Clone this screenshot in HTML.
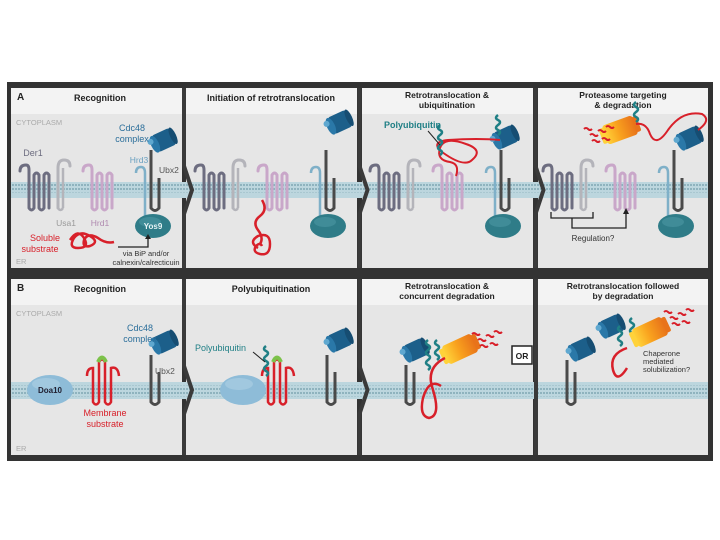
<!DOCTYPE html>
<html><head><meta charset="utf-8"><style>
html,body{margin:0;padding:0;background:#fff;}
svg{display:block;}
text{font-family:"Liberation Sans",sans-serif;}
</style></head><body>
<svg id="s" width="720" height="540" viewBox="0 0 720 540" xmlns="http://www.w3.org/2000/svg">
<defs>
<pattern id="mem" width="3" height="17" patternUnits="userSpaceOnUse">
<rect width="3" height="17" fill="#bcd6de"/>
<rect x="0" y="1" width="2" height="2" fill="#8fb3be"/>
<rect x="0" y="5" width="2" height="1" fill="#a9c7d0"/>
<rect x="0" y="11" width="2" height="1" fill="#a9c7d0"/>
<rect x="0" y="14" width="2" height="2" fill="#8fb3be"/>
</pattern>
<linearGradient id="prot" x1="0" y1="0" x2="1" y2="0">
<stop offset="0" stop-color="#ffd23a"/><stop offset="0.45" stop-color="#f9a21e"/><stop offset="1" stop-color="#e8731a"/>
</linearGradient>
</defs>
<rect x="7" y="82" width="706" height="379" fill="#333"/>
<g id="g"></g>
</svg>
<script>
var g=document.getElementById('g'),h='';
function add(s){h+=s;}
var cols=[[11,182],[186,357],[362,533],[538,708]];
function panel(y0,y1,hy){
 cols.forEach(function(c){
  add('<rect x="'+c[0]+'" y="'+y0+'" width="'+(c[1]-c[0])+'" height="'+(y1-y0)+'" fill="#e6e6e6"/>');
  add('<rect x="'+c[0]+'" y="'+y0+'" width="'+(c[1]-c[0])+'" height="'+hy+'" fill="#f3f3f3"/>');
 });
}
panel(88,268,26);panel(279,455,26);
add('<rect x="11" y="182" width="697" height="16" fill="url(#mem)"/>');
add('<rect x="11" y="382" width="697" height="17" fill="url(#mem)"/>');
function chev(x,y0,y1,my,ch){
 var d='M'+x+' '+y0+' L'+x+' '+(my-24)+' L'+(x+ch)+' '+my+' L'+x+' '+(my+24)+' L'+x+' '+y1;
 add('<path d="'+d+'" fill="none" stroke="#3a3a3a" stroke-width="4"/>');
}
chev(184,88,268,190,8);chev(359.5,88,268,190,8);chev(535.5,88,268,190,8);
chev(184,279,455,390,8);chev(359.5,279,455,390,8);
add('<rect x="534" y="279" width="4" height="176" fill="#3a3a3a"/>');
function T(x,y,t,o){o=o||{};add('<text x="'+x+'" y="'+y+'" font-size="'+(o.s||9)+'" fill="'+(o.c||'#222')+'" text-anchor="'+(o.a||'middle')+'" font-weight="'+(o.w||'normal')+'">'+t+'</text>');}
T(17,100,'A',{a:'start',w:'bold',s:10});T(17,291,'B',{a:'start',w:'bold',s:10});
T(100,101,'Recognition',{w:'bold',s:9});
T(271,101,'Initiation of retrotranslocation',{w:'bold',s:9});
T(447,98,'Retrotranslocation &amp;',{w:'bold',s:8.5});T(447,108,'ubiquitination',{w:'bold',s:8.5});
T(623,98,'Proteasome targeting',{w:'bold',s:8.5});T(623,108,'&amp; degradation',{w:'bold',s:8.5});
T(100,292,'Recognition',{w:'bold',s:9});
T(271,292,'Polyubiquitination',{w:'bold',s:9});
T(447,289,'Retrotranslocation &amp;',{w:'bold',s:8.5});T(447,299,'concurrent degradation',{w:'bold',s:8.5});
T(623,289,'Retrotranslocation followed',{w:'bold',s:8.5});T(623,299,'by degradation',{w:'bold',s:8.5});
T(16,125,'CYTOPLASM',{a:'start',s:7.5,c:'#aaa'});T(16,316,'CYTOPLASM',{a:'start',s:7.5,c:'#aaa'});
T(16,264,'ER',{a:'start',s:7.5,c:'#aaa'});T(16,451,'ER',{a:'start',s:7.5,c:'#aaa'});
function tm(x,n,w,top,bot,col){
 var d='M'+(x-6)+' '+(top+6)+' Q'+(x-6)+' '+top+' '+x+' '+top+' Q'+(x+3)+' '+top+' '+(x+3)+' '+(top+5);
 var cx=x+3;
 d+=' L'+cx+' '+bot;
 for(var i=0;i<n;i++){
  var nx=cx+w;
  if(i%2==0){d+=' Q'+(cx+w/2)+' '+(bot+4)+' '+nx+' '+bot+' L'+nx+' '+(top+10);}
  else{d+=' Q'+(cx+w/2)+' '+(top+6)+' '+nx+' '+(top+10)+' L'+nx+' '+bot;}
  cx=nx;
 }
 add('<path d="'+d+'" fill="none" stroke="'+col+'" stroke-width="3" stroke-linecap="round"/>');
}
function usa(x,col){
 add('<path d="M'+x+' 208 L'+x+' 168 Q'+x+' 160 '+(x+6)+' 160 Q'+(x+12)+' 160 '+(x+12)+' 166" fill="none" stroke="'+col+'" stroke-width="3" stroke-linecap="round"/>');
 add('<path d="M'+(x+5)+' 208 L'+(x+5)+' 168" fill="none" stroke="'+col+'" stroke-width="2.5"/>');
 add('<path d="M'+x+' 208 Q'+(x+2.5)+' 212 '+(x+5)+' 208" fill="none" stroke="'+col+'" stroke-width="2.5"/>');
}
function ubx(x,top){
 add('<path d="M'+x+' '+top+' L'+x+' 208 Q'+(x+4)+' 213 '+(x+8)+' 208 L'+(x+8)+' 178" fill="none" stroke="#4a4a4a" stroke-width="3"/>');
}
function ubxB(x,top,bot){
 add('<path d="M'+x+' '+top+' L'+x+' '+bot+' Q'+(x+4)+' '+(bot+5)+' '+(x+8)+' '+bot+' L'+(x+8)+' '+(bot-30)+'" fill="none" stroke="#4a4a4a" stroke-width="3"/>');
}
function cdc(x,y,r){ r=r||-25;
 add('<g transform="translate('+x+' '+y+') rotate('+r+')"><rect x="-10" y="-9" width="20" height="18" rx="3" fill="#1c5f8a"/><ellipse cx="-10" cy="0" rx="4" ry="9" fill="#2a78a8"/><ellipse cx="10" cy="0" rx="3" ry="9" fill="#164d72"/><circle cx="-13" cy="-4" r="3" fill="#5fa8d0"/></g>');
}
function yos(x,y){add('<ellipse cx="'+x+'" cy="'+y+'" rx="18" ry="12" fill="#2f7c88"/><ellipse cx="'+(x-3)+'" cy="'+(y-4)+'" rx="11" ry="5" fill="#4c98a3" opacity="0.6"/>');}
function prot(x,y,r){
 add('<g transform="translate('+x+' '+y+') rotate('+r+')"><rect x="-16" y="-10" width="32" height="20" rx="3" fill="url(#prot)"/><rect x="-20" y="-8" width="5" height="16" rx="2" fill="#ffd23a"/><rect x="15" y="-8" width="5" height="16" rx="2" fill="#e8731a"/></g>');
}
function ub(x,y,n){ var d='M'+x+' '+y; for(var i=0;i<n;i++){d+=' q4 -3 0 -5 q-4 -2 0 -5';} add('<path d="'+d+'" fill="none" stroke="#1f7f85" stroke-width="2.5"/>');}
function frags(x,y){ [[0,0],[8,-4],[2,6],[12,4],[-6,-6],[16,-8]].forEach(function(p){add('<path d="M'+(x+p[0])+' '+(y+p[1])+' q2 -2 4 0 q2 2 4 0" fill="none" stroke="#d8202a" stroke-width="2"/>');});}
var off=[0,175,350,523];
off.forEach(function(o){
 tm(26+o,4,5,165,208,'#6d6d80');
 usa(58+o,'#b4b4ba');
 tm(89+o,4,5,165,208,'#c9a7c9');
 add('<path d="M'+(136+o)+' 173 Q'+(136+o)+' 167 '+(141+o)+' 167 Q'+(145+o)+' 167 '+(145+o)+' 173 L'+(145+o)+' 218" fill="none" stroke="#7fb0c8" stroke-width="2.5"/>');
 yos(153+o,226);
 ubx(151+o,150);
});
cdc(164,140);cdc(340,122);cdc(506,137);cdc(690,138);
T(33,156,'Der1',{s:9,c:'#6d6d80'});
T(66,226,'Usa1',{s:8.5,c:'#999'});
T(100,226,'Hrd1',{s:8.5,c:'#b08ab0'});
T(139,163,'Hrd3',{s:8.5,c:'#6aa0c0'});
T(159,173,'Ubx2',{s:8.5,c:'#555',a:'start'});
T(132,131,'Cdc48',{s:9,c:'#2b6e9a'});T(132,142,'complex',{s:9,c:'#2b6e9a'});
T(153,229,'Yos9',{s:8,c:'#e8f4f6',w:'bold'});
T(45,241,'Soluble',{s:9,c:'#d8202a'});T(40,252,'substrate',{s:9,c:'#d8202a'});
add('<path d="M70 240 q8 -12 14 -2 q6 10 -6 10 q-10 0 -4 -10 q6 -8 16 -2 q10 6 0 10 q-8 2 -6 -6 q4 -8 14 -2 q8 6 16 4" fill="none" stroke="#d8202a" stroke-width="2.5"/>');
add('<path d="M118 247 L148 247 L148 238" fill="none" stroke="#222" stroke-width="1.3"/><path d="M145 239 L148 234 L151 239Z" fill="#222"/>');
T(146,256,'via BiP and/or',{s:7.5,c:'#333'});T(146,265,'calnexin/calrecticuin',{s:7.5,c:'#333'});
add('<path d="M262 200 q6 10 -2 16 q-8 6 -2 14 q6 8 2 14 M258 248 q-10 -6 0 -12 q12 -4 12 8 q0 12 -10 10 q-8 -2 -4 -8 q4 -4 6 0" fill="none" stroke="#d8202a" stroke-width="2.5"/>');
add('<path d="M456 176 q4 -12 -6 -14 q-14 -2 -10 -14 q4 -12 26 -4 q18 6 6 16 q-8 8 -30 -8 q-12 -10 6 -12 q30 -2 52 0" fill="none" stroke="#d8202a" stroke-width="2"/>');
ub(440,155,3);ub(498,135,2);
T(384,128,'Polyubiquitin',{s:9,c:'#1f7f85',a:'start',w:'bold'});
add('<path d="M428 131 L440 145" stroke="#222" stroke-width="1"/>');
prot(620,130,-20);frags(590,135);ub(636,122,2);
add('<path d="M636 124 q10 -2 14 10 q6 14 18 -4 q14 -20 34 -16 q10 6 -4 16" fill="none" stroke="#d8202a" stroke-width="2"/>');
add('<path d="M551 212 L551 218 L593 218 L593 212 M572 218 L572 228 L626 228 L626 212" fill="none" stroke="#222" stroke-width="1.3"/><path d="M623 214 L626 208 L629 214Z" fill="#222"/>');
T(593,241,'Regulation?',{s:8,c:'#333'});
function doa(x,lab){add('<ellipse cx="'+x+'" cy="390" rx="23" ry="15" fill="#8ebcd8"/><ellipse cx="'+(x-4)+'" cy="384" rx="14" ry="6" fill="#a9cde3" opacity="0.7"/>');if(lab)T(x,393,'Doa10',{s:8,w:'bold',c:'#223'});}
function msub(o){
 add('<path d="M'+(87+o)+' 376 Q'+(87+o)+' 368 '+(93+o)+' 368 L'+(93+o)+' 402 Q'+(96+o)+' 407 '+(99+o)+' 402 L'+(99+o)+' 362 Q'+(102+o)+' 357 '+(105+o)+' 362 L'+(105+o)+' 402 Q'+(108+o)+' 407 '+(111+o)+' 402 L'+(111+o)+' 368 Q'+(118+o)+' 366 '+(119+o)+' 376" fill="none" stroke="#d8202a" stroke-width="2.5"/>');
 add('<path d="M'+(98+o)+' 362 Q'+(102+o)+' 353 '+(106+o)+' 362" fill="none" stroke="#7cc24a" stroke-width="4"/>');
}
doa(50,true);msub(0);ubxB(151,355,402);cdc(165,342);
T(140,331,'Cdc48',{s:9,c:'#2b6e9a'});T(140,342,'complex',{s:9,c:'#2b6e9a'});
T(155,374,'Ubx2',{s:8.5,c:'#555',a:'start'});
T(105,416,'Membrane',{s:9,c:'#d8202a'});T(105,427,'substrate',{s:9,c:'#d8202a'});
doa(243,false);msub(175);ubxB(327,355,402);cdc(340,340);
ub(266,376,3);T(195,351,'Polyubiquitin',{s:9,c:'#1f7f85',a:'start'});
add('<path d="M253 352 L265 362" stroke="#222" stroke-width="1"/>');
ubxB(406,365,402);cdc(416,350);ub(428,370,3);ub(437,360,2);prot(460,349,-25);frags(478,340);
add('<path d="M445 358 q-20 10 -12 32 q8 26 -4 28 q-10 -2 -6 -20 q6 -20 18 -12" fill="none" stroke="#d8202a" stroke-width="2.5"/>');
add('<rect x="512" y="346" width="20" height="18" fill="#fff" stroke="#222" stroke-width="1.5"/>');T(522,359,'OR',{s:8.5,w:'bold'});
ubxB(567,360,402);cdc(582,349);cdc(612,326);ub(620,346,2);ub(632,338,2);prot(650,332,-25);frags(670,318);
add('<path d="M627 348 q-18 6 -14 22 q4 14 14 -2" fill="none" stroke="#d8202a" stroke-width="2.5"/>');
T(643,356,'Chaperone',{s:7.5,c:'#333',a:'start'});T(643,364,'mediated',{s:7.5,c:'#333',a:'start'});T(643,372,'solubilization?',{s:7.5,c:'#333',a:'start'});
g.innerHTML=h;
</script>
</body></html>
